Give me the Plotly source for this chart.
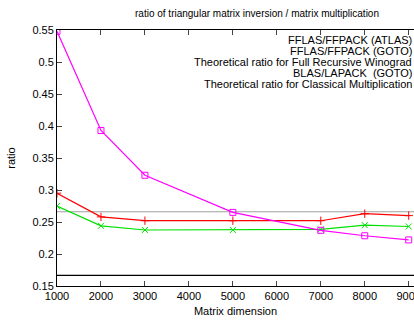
import plotly.graph_objects as go

sizes = [1000, 2000, 3000, 5000, 7000, 8000, 9000]
fflas_atlas = [0.295, 0.258, 0.252, 0.252, 0.252, 0.263, 0.260]
fflas_goto = [0.275, 0.244, 0.2375, 0.2375, 0.2385, 0.245, 0.243]
blas_lapack_goto = [0.548, 0.393, 0.323, 0.265, 0.237, 0.2285, 0.222]
theo_winograd = 0.266
theo_classical = 1 / 6
x_span = [1000, 9120]

legend_labels = [
    "FFLAS/FFPACK (ATLAS)",
    "FFLAS/FFPACK (GOTO)",
    "Theoretical ratio for Full Recursive Winograd",
    "BLAS/LAPACK  (GOTO)",
    "Theoretical ratio for Classical Multiplication",
]

FONT = "Liberation Sans Narrow, Arial Narrow, Liberation Sans, sans-serif"

fig = go.Figure()
fig.add_trace(go.Scatter(x=x_span, y=[theo_winograd] * 2, mode="lines",
                         line=dict(color="#a0a0a0", width=1.2), showlegend=False))
fig.add_trace(go.Scatter(x=x_span, y=[theo_classical] * 2, mode="lines",
                         line=dict(color="black", width=1.2), showlegend=False))
fig.add_trace(go.Scatter(x=sizes, y=fflas_atlas, mode="lines+markers",
                         line=dict(color="#ff0000", width=1.2),
                         marker=dict(symbol="cross-thin", size=6, color="#ff0000",
                                     line=dict(color="#ff0000", width=1)),
                         showlegend=False))
fig.add_trace(go.Scatter(x=sizes, y=fflas_goto, mode="lines+markers",
                         line=dict(color="#00e000", width=1.2),
                         marker=dict(symbol="x-thin", size=6, color="#00e000",
                                     line=dict(color="#00e000", width=1)),
                         showlegend=False))
fig.add_trace(go.Scatter(x=sizes, y=blas_lapack_goto, mode="lines+markers",
                         line=dict(color="#ff00ff", width=1.2),
                         marker=dict(symbol="square-open", size=6, color="#ff00ff",
                                     line=dict(color="#ff00ff", width=1)),
                         showlegend=False))

for i, lab in enumerate(legend_labels):
    fig.add_annotation(text=lab, xref="paper", yref="paper", x=1.0, y=1 - (10 + 11 * i) / 256,
                       xanchor="right", yanchor="middle", showarrow=False,
                       font=dict(family=FONT, size=11, color="black"))

fig.update_layout(
    width=414, height=325,
    margin=dict(l=57, r=0, t=30, b=39, autoexpand=False),
    paper_bgcolor="white", plot_bgcolor="white",
    font=dict(family=FONT, size=11, color="black"),
    title=dict(text="ratio of triangular matrix inversion / matrix multiplication",
               x=257 / 414, xanchor="center", y=1 - 13 / 325, yanchor="middle",
               font=dict(family=FONT, size=10)),
)
fig.update_xaxes(range=x_span, tickvals=[1000, 2000, 3000, 4000, 5000, 6000, 7000, 8000, 9000],
                 ticks="inside", ticklen=5, showline=True, linecolor="black", linewidth=1,
                 mirror="allticks", showgrid=False, zeroline=False, ticklabeloverflow="allow",
                 automargin=False,
                 title=dict(text="Matrix dimension", standoff=6, font=dict(size=11)))
fig.update_yaxes(range=[0.15, 0.55], tickvals=[0.15, 0.2, 0.25, 0.3, 0.35, 0.4, 0.45, 0.5, 0.55],
                 ticktext=["0.15", "0.2", "0.25", "0.3", "0.35", "0.4", "0.45", "0.5", "0.55"],
                 ticks="inside", ticklen=5, showline=True, linecolor="black", linewidth=1,
                 mirror=False, showgrid=False, zeroline=False, automargin=False,
                 title=dict(text="ratio", standoff=14, font=dict(size=11)))

fig.write_html("out.html")
